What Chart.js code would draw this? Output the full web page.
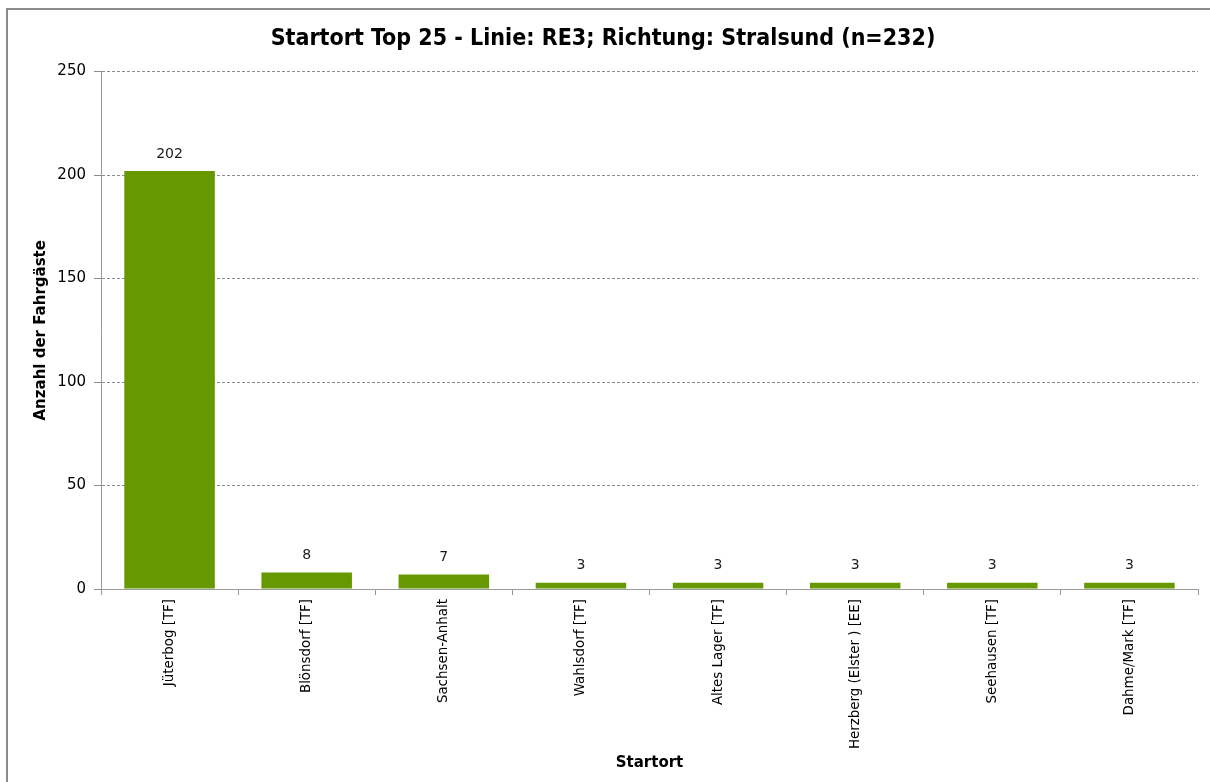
<!DOCTYPE html>
<html lang="de">
<head>
<meta charset="utf-8">
<title>Startort Top 25 - RE3 Richtung Stralsund</title>
<script src="https://cdn.jsdelivr.net/npm/chart.js@4.4.1/dist/chart.umd.min.js"></script>
<style>
  html, body { margin: 0; padding: 0; background: #ffffff; }
  #wrap { width: 1210px; height: 782px; position: relative; }
</style>
</head>
<body>
<div id="wrap"><canvas id="startortChart"></canvas></div>
<script>
// Startorte (Kategorien auf der X-Achse)
const startorte = [
    'Jüterbog [TF]', 'Blönsdorf [TF]', 'Sachsen-Anhalt', 'Wahlsdorf [TF]',
    'Altes Lager [TF]', 'Herzberg (Elster ) [EE]', 'Seehausen [TF]', 'Dahme/Mark [TF]'
];

// Anzahl der Fahrgäste je Startort
const fahrgaeste = [202, 8, 7, 3, 3, 3, 3, 3];

// Beschriftung der Y-Achse
const yTicks = [0, 50, 100, 150, 200, 250];

const schrift = "'DejaVu Sans', Verdana, sans-serif";

// Rahmen oben und links um das Diagramm (wie im Excel-Export)
const rahmenPlugin = {
    id: 'rahmen',
    beforeDraw(chart) {
        const c = chart.ctx;
        c.save();
        c.strokeStyle = '#8c8c8c';
        c.lineWidth = 2;
        c.beginPath();
        c.moveTo(7, 782);
        c.lineTo(7, 9);
        c.lineTo(1210, 9);
        c.stroke();
        c.restore();
    }
};

// Werte über den Balken anzeigen
const wertePlugin = {
    id: 'werte',
    afterDatasetsDraw(chart) {
        const c = chart.ctx;
        const meta = chart.getDatasetMeta(0);
        c.save();
        c.font = '14px ' + schrift;
        c.fillStyle = '#1a1a1a';
        c.textAlign = 'center';
        c.textBaseline = 'bottom';
        meta.data.forEach((bar, i) => {
            c.fillText(String(fahrgaeste[i]), bar.x, bar.y - 10);
        });
        c.restore();
    }
};

const ctx = document.getElementById('startortChart').getContext('2d');

const startortChart = new Chart(ctx, {
    type: 'bar',
    data: {
        labels: startorte,
        datasets: [{
            label: 'Anzahl der Fahrgäste',
            data: fahrgaeste,
            backgroundColor: '#669900',
            borderWidth: 0,
            barPercentage: 0.66,
            categoryPercentage: 1.0
        }]
    },
    plugins: [rahmenPlugin, wertePlugin],
    options: {
        responsive: true,
        maintainAspectRatio: false,
        animation: false,
        layout: {
            padding: { left: 8, right: 12, top: 0, bottom: 10 }
        },
        plugins: {
            legend: { display: false },
            tooltip: { enabled: false },
            title: {
                display: true,
                text: 'Startort Top 25 - Linie: RE3; Richtung: Stralsund (n=232)',
                color: '#000000',
                font: { family: "Tahoma, 'DejaVu Sans Condensed', 'DejaVu Sans', sans-serif", size: 23, weight: 'bold' },
                padding: { top: 25, bottom: 19 }
            }
        },
        scales: {
            x: {
                grid: {
                    display: true,
                    drawOnChartArea: false,
                    offset: true,
                    tickLength: 6,
                    color: '#9a9a9a'
                },
                border: { color: '#9a9a9a', width: 1 },
                ticks: {
                    minRotation: 90,
                    maxRotation: 90,
                    autoSkip: false,
                    padding: 4,
                    color: '#000000',
                    font: { family: schrift, size: 13.4 }
                },
                title: {
                    display: true,
                    text: 'Startort',
                    color: '#000000',
                    font: { family: schrift, size: 15, weight: 'bold' },
                    padding: { top: 4, bottom: 0 }
                },
                afterFit(scale) { scale.height = 183; }
            },
            y: {
                min: 0,
                max: 250,
                afterBuildTicks(scale) {
                    scale.ticks = yTicks.map(v => ({ value: v }));
                },
                grid: {
                    color: '#8c8c8c',
                    tickLength: 7,
                    tickBorderDash: [],
                    drawTicks: true
                },
                border: { color: '#9a9a9a', width: 1, dash: [3, 2] },
                ticks: {
                    padding: 8,
                    color: '#000000',
                    font: { family: schrift, size: 15 }
                },
                title: {
                    display: true,
                    text: 'Anzahl der Fahrgäste',
                    color: '#000000',
                    font: { family: schrift, size: 15, weight: 'bold' },
                    padding: { top: 24, bottom: 6 }
                },
                afterFit(scale) { scale.width = 93; }
            }
        }
    }
});
</script>
</body>
</html>
